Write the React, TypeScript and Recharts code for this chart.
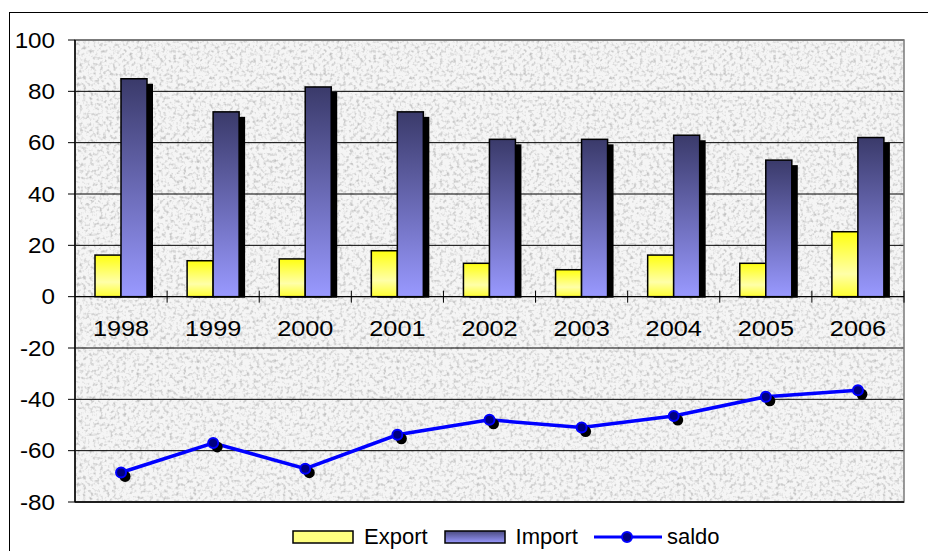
import React from "react";
import {
  ComposedChart,
  Bar,
  Line,
  XAxis,
  YAxis,
  CartesianGrid,
  ReferenceLine,
  ReferenceArea,
  ReferenceDot,
  Legend,
} from "recharts";

const years = ["1998", "1999", "2000", "2001", "2002", "2003", "2004", "2005", "2006"];
const exportValues = [16.2, 14.0, 14.7, 17.9, 13.0, 10.5, 16.2, 13.0, 25.3];
const importValues = [84.9, 72.0, 81.7, 72.0, 61.3, 61.3, 62.9, 53.2, 62.0];
const saldoValues = [-68.5, -57, -67, -53.8, -48, -51, -46.5, -39, -36.5];
const yTicks = [-80, -60, -40, -20, 0, 20, 40, 60, 80, 100];

const data = years.map((year, i) => ({
  year,
  Export: exportValues[i],
  Import: importValues[i],
  saldo: saldoValues[i],
}));

const W = 928;
const H = 551;
const MARGIN = { top: 40, right: 24, bottom: 49, left: 0 };
const Y_AXIS_W = 75;
const PLOT_W = W - MARGIN.right - MARGIN.left - Y_AXIS_W;
const HALF_BAND = PLOT_W / years.length / 2;
const FONT = "Arial, 'Liberation Sans', sans-serif";

const BarShape = (props: any) => {
  const { x, y, width, height, fill } = props;
  if (width == null || height == null) return null;
  return (
    <g>
      <rect x={x + 6} y={y + 5} width={width} height={Math.max(0, height - 4)} fill="#000" />
      <rect x={x} y={y} width={width} height={height} fill={fill} stroke="#000" strokeWidth={1.5} />
    </g>
  );
};

const SaldoDot = (props: any) => {
  const { cx, cy, index } = props;
  if (cx == null || cy == null) return <g key={`d-${index}`} />;
  return (
    <g key={`d-${index}`}>
      <circle cx={cx + 4} cy={cy + 4} r={5.5} fill="#000" />
      <circle cx={cx} cy={cy} r={5} fill="#000080" stroke="#0000ff" strokeWidth={2} />
    </g>
  );
};

const YTick = (props: any) => {
  const { x, y, payload } = props;
  return (
    <text
      transform={`translate(${x},${y}) scale(1.1,1)`}
      textAnchor="end"
      dy="0.35em"
      fontSize={22}
      fontFamily={FONT}
      fill="#000"
    >
      {payload.value}
    </text>
  );
};

const CategoryMark = (label: string) => (props: any) => {
  const { cx, cy } = props;
  if (cx == null || cy == null) return <g />;
  return (
    <g>
      <line x1={cx + HALF_BAND} x2={cx + HALF_BAND} y1={cy - 6} y2={cy + 6} stroke="#000" strokeWidth={1} />
      <text
        transform={`translate(${cx},${cy + 32}) scale(1.15,1)`}
        textAnchor="middle"
        dy="0.35em"
        fontSize={22}
        fontFamily={FONT}
        fill="#000"
      >
        {label}
      </text>
    </g>
  );
};

const LegendContent = () => (
  <div
    style={{
      display: "flex",
      alignItems: "center",
      fontFamily: FONT,
      fontSize: 22,
      color: "#000",
      height: 24,
      whiteSpace: "nowrap",
    }}
  >
    <svg width={62} height={14} style={{ display: "block" }}>
      <rect x={1} y={1} width={60} height={12} fill="#ffff80" stroke="#000" strokeWidth={1.5} />
    </svg>
    <span style={{ marginLeft: 10, marginRight: 16 }}>Export</span>
    <svg width={62} height={14} style={{ display: "block" }}>
      <rect x={1} y={1} width={60} height={12} fill="url(#legImp)" stroke="#000" strokeWidth={1.5} />
    </svg>
    <span style={{ marginLeft: 10, marginRight: 16 }}>Import</span>
    <svg width={68} height={14} style={{ display: "block" }}>
      <line x1={0} x2={68} y1={7} y2={7} stroke="#0000ff" strokeWidth={3} />
      <circle cx={33} cy={7} r={5} fill="#000080" stroke="#0000ff" strokeWidth={2} />
    </svg>
    <span style={{ marginLeft: 5 }}>saldo</span>
  </div>
);

export default function App() {
  return (
    <div
      style={{
        position: "fixed",
        left: 0,
        top: 0,
        width: W,
        height: H,
        overflow: "hidden",
        background: "#fff",
      }}
    >
      <div
        style={{
          position: "absolute",
          left: 9,
          top: 12,
          width: 960,
          height: 600,
          border: "1px solid #000",
          boxSizing: "border-box",
        }}
      />
      <svg width={0} height={0} style={{ position: "absolute" }}>
        <defs>
          <linearGradient id="legImp" x1="0" y1="0" x2="0" y2="1">
            <stop offset="0%" stopColor="#4a4a80" />
            <stop offset="100%" stopColor="#9a9aff" />
          </linearGradient>
        </defs>
      </svg>
      <div style={{ position: "absolute", left: 0, top: 0 }}>
        <ComposedChart width={W} height={H} data={data} margin={MARGIN} barGap={0}>
          <defs>
            <linearGradient id="gExp" x1="0" y1="0" x2="0" y2="1">
              <stop offset="0%" stopColor="#ffff10" />
              <stop offset="65%" stopColor="#ffffa8" />
              <stop offset="100%" stopColor="#ffff30" />
            </linearGradient>
            <linearGradient id="gImp" x1="0" y1="0" x2="0" y2="1">
              <stop offset="0%" stopColor="#3a3a6a" />
              <stop offset="100%" stopColor="#9999ff" />
            </linearGradient>
            <filter id="noise" x="0" y="0" width="100%" height="100%">
              <feTurbulence type="fractalNoise" baseFrequency="0.3" numOctaves={2} seed={7} result="t" />
              <feColorMatrix
                in="t"
                type="matrix"
                values="0 0 0 0 0.5  0 0 0 0 0.5  0 0 0 0 0.5  0 0 0 2.4 -1.15"
              />
            </filter>
            <pattern id="tex" width={200} height={200} patternUnits="userSpaceOnUse">
              <rect x={0} y={0} width={200} height={200} fill="#f5f5f5" />
              <rect x={0} y={0} width={200} height={200} filter="url(#noise)" />
            </pattern>
          </defs>
          <CartesianGrid
            vertical={false}
            stroke="#000"
            strokeOpacity={1}
            fill="url(#tex)"
            fillOpacity={1}
          />
          <XAxis dataKey="year" hide />
          <YAxis
            width={Y_AXIS_W}
            domain={[-80, 100]}
            ticks={yTicks}
            interval={0}
            allowDataOverflow
            axisLine={{ stroke: "#000", strokeWidth: 1.5 }}
            tickLine={{ stroke: "#000" }}
            tickSize={7}
            tickMargin={13}
            tick={<YTick />}
          />
          <ReferenceArea y1={-80} y2={100} fill="none" stroke="#7a7a7a" strokeWidth={1.5} ifOverflow="visible" />
          <ReferenceLine y={-80} stroke="#000" strokeWidth={1.5} />
          <ReferenceLine y={0} stroke="#000" strokeWidth={1} />
          <Bar dataKey="Export" fill="url(#gExp)" barSize={26} shape={<BarShape />} isAnimationActive={false} legendType="rect" />
          <Bar dataKey="Import" fill="url(#gImp)" barSize={26} shape={<BarShape />} isAnimationActive={false} legendType="rect" />
          <Line
            dataKey="saldo"
            stroke="#0000ff"
            strokeWidth={3.5}
            dot={SaldoDot}
            activeDot={false}
            isAnimationActive={false}
          />
          {years.map((yr) => (
            <ReferenceDot key={yr} x={yr} y={0} r={1} shape={CategoryMark(yr)} ifOverflow="visible" />
          ))}
          <Legend
            layout="horizontal"
            verticalAlign="middle"
            align="center"
            wrapperStyle={{ top: 525, left: 292, width: "auto" }}
            content={<LegendContent />}
          />
        </ComposedChart>
      </div>
    </div>
  );
}
